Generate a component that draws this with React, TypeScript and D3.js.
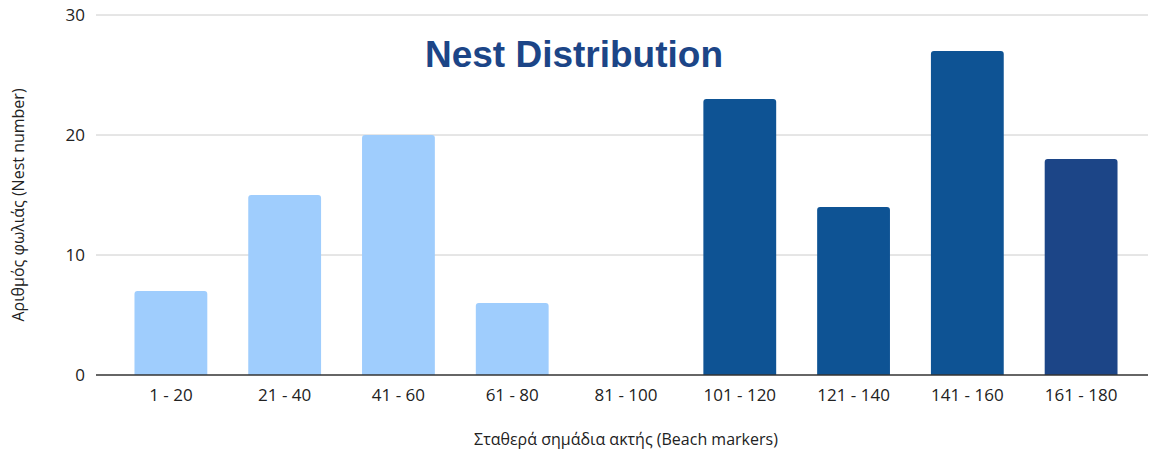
import React from "react";
import * as d3 from "d3";

const categories = ["1 - 20", "21 - 40", "41 - 60", "61 - 80", "81 - 100", "101 - 120", "121 - 140", "141 - 160", "161 - 180"];
const values = [7, 15, 20, 6, 0, 23, 14, 27, 18];
const barColors = ["#9fcdfd", "#9fcdfd", "#9fcdfd", "#9fcdfd", "#9fcdfd", "#0e5394", "#0e5394", "#0e5394", "#1c4587"];
const yTicks = [0, 10, 20, 30];
const title = "Nest Distribution";
const xTitle = "Σταθερά σημάδια ακτής (Beach markers)";
const yTitle = "Αριθμός φωλιάς (Nest number)";

const W = 1155;
const H = 457;
const gridLeft = 96;
const gridRight = 1148;
const bandLeft = 114;
const bandRight = 1138;
const top = 15;
const bottom = 375;

function topRoundedRect(x: number, y: number, w: number, h: number, r: number) {
  if (h <= 0) return "";
  const rr = Math.min(r, h, w / 2);
  return `M${x},${y + h}V${y + rr}Q${x},${y} ${x + rr},${y}H${x + w - rr}Q${x + w},${y} ${x + w},${y + rr}V${y + h}Z`;
}

export default function App() {
  const x = d3.scaleBand<string>().domain(categories).range([bandLeft, bandRight]).paddingInner(0.36).paddingOuter(0.18);
  const y = d3.scaleLinear().domain([0, 30]).range([bottom, top]);
  const font = "'Open Sans', 'Noto Sans', sans-serif";
  return (
    <svg width={W} height={H} style={{ position: "absolute", left: 0, top: 0, background: "#fff" }}>
      {yTicks.map((t) => (
        <g key={t}>
          {t !== 0 && <line x1={gridLeft} x2={gridRight} y1={y(t)} y2={y(t)} stroke="#cccccc" strokeWidth={1} />}
          <text x={85} y={y(t)} dy="0.35em" textAnchor="end" fontFamily={font} fontSize={17} fill="#222">{t}</text>
        </g>
      ))}
      {categories.map((c, i) => {
        const bx = x(c)!;
        const bw = x.bandwidth();
        const by = y(values[i]);
        return (
          <g key={c}>
            <path d={topRoundedRect(bx, by, bw, bottom - by, 3)} fill={barColors[i]} />
            <text x={bx + bw / 2} y={401} textAnchor="middle" fontFamily={font} fontSize={17} fill="#222">{c}</text>
          </g>
        );
      })}
      <line x1={gridLeft} x2={gridRight} y1={bottom} y2={bottom} stroke="#333" strokeWidth={1.5} />
      <text x={574} y={67} textAnchor="middle" fontFamily="'Liberation Sans', Arial, sans-serif" fontWeight="bold" fontSize={37} fill="#1c4587">{title}</text>
      <text x={626} y={445} textAnchor="middle" fontFamily={font} fontSize={16} fill="#222">{xTitle}</text>
      <text transform={`translate(24,${205}) rotate(-90)`} textAnchor="middle" fontFamily={font} fontSize={16} fill="#222">{yTitle}</text>
    </svg>
  );
}
